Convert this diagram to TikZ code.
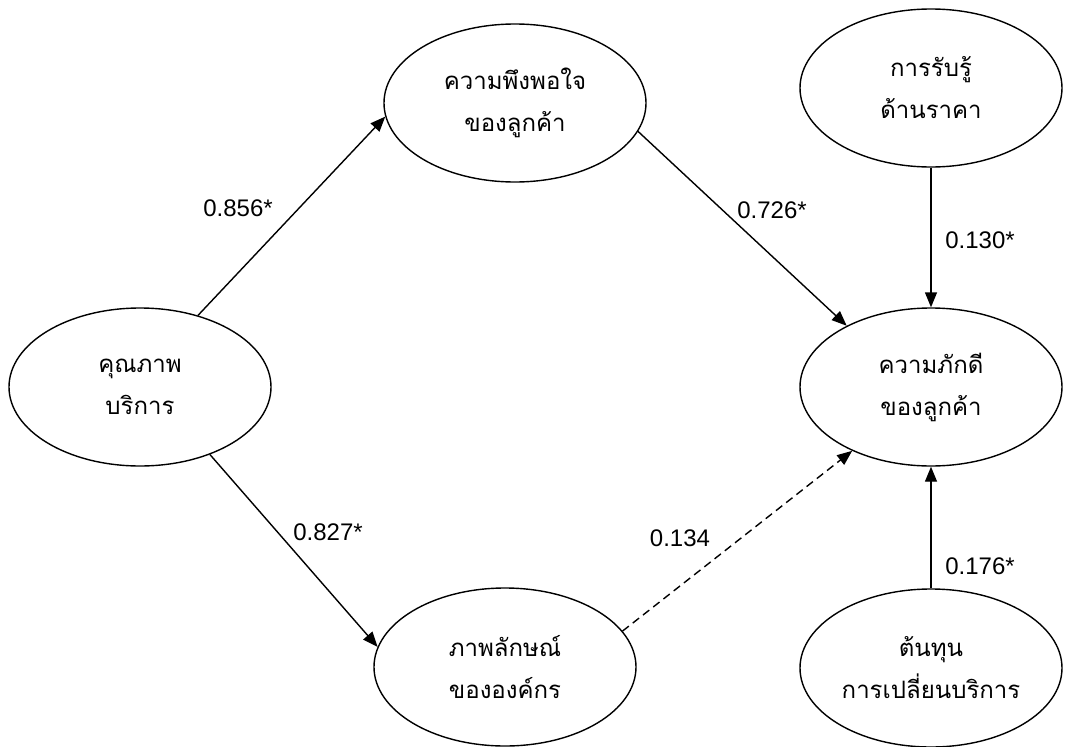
\documentclass[tikz,border=0pt]{standalone}
\usepackage{fontspec}
\setmainfont{Liberation Sans}
\newfontfamily\thaifont[Script=Thai]{Loma}
\usetikzlibrary{arrows.meta,shapes.geometric}
\begin{document}
\begin{tikzpicture}[x=1pt,y=-1pt,
  construct/.style={ellipse, draw, line width=1.4pt, minimum width=262pt,
    minimum height=158pt, inner sep=0pt, align=center,
    font=\thaifont\fontsize{24}{42}\selectfont},
  link/.style={line width=1.4pt, -{Triangle[length=15pt,width=12pt]}},
  weaklink/.style={link, dash pattern=on 8pt off 5pt},
  coef/.style={inner sep=0pt, font=\fontsize{24}{28}\selectfont}]
\useasboundingbox (0,0) rectangle (1066,747);

% latent constructs
\node[construct] (quality)  at (140,387) {คุณภาพ\\บริการ};
\node[construct] (satisf)   at (515,103) {ความพึงพอใจ\\ของลูกค้า};
\node[construct] (price)    at (931,88)  {การรับรู้\\ด้านราคา};
\node[construct] (loyalty)  at (931,387) {ความภักดี\\ของลูกค้า};
\node[construct] (image)    at (505,667) {ภาพลักษณ์\\ขององค์กร};
\node[construct] (switch)   at (931,668) {ต้นทุน\\การเปลี่ยนบริการ};

% structural paths
\draw[link] (quality.51) -- (satisf.186.6);
\draw[link] (quality.-44.6) -- (image.171.6);
\draw[link] (satisf.-13.5) -- (loyalty.144);
\draw[weaklink] (image.17.7) -- (loyalty.219.6);
\draw[link] (price.south) -- (loyalty.north);
\draw[link] (switch.north) -- (loyalty.south);

% path coefficients
\node[coef] (c1) at (238,208) {0.856*};
\node[coef] (c2) at (328,532) {0.827*};
\node[coef] (c3) at (772,210) {0.726*};
\node[coef] (c4) at (980,240) {0.130*};
\node[coef] (c5) at (680,538) {0.134};
\node[coef] (c6) at (980,566) {0.176*};
\end{tikzpicture}
\end{document}
